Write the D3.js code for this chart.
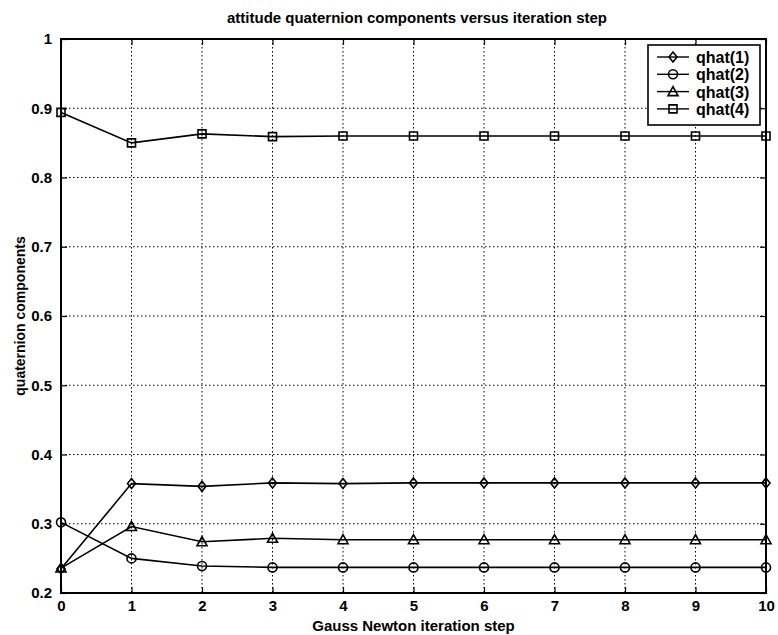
<!DOCTYPE html>
<html>
<head>
<meta charset="utf-8">
<script src="https://cdn.jsdelivr.net/npm/d3@7"></script>
<style>
  body { margin: 0; background: #ffffff; }
  svg text { font-family: Arial, "Liberation Sans", sans-serif; fill: #000; }
</style>
</head>
<body>
<div id="chart"></div>
<script>
// attitude quaternion components versus Gauss Newton iteration step

var steps = [0, 1, 2, 3, 4, 5, 6, 7, 8, 9, 10];
var seriesNames = ["qhat(1)", "qhat(2)", "qhat(3)", "qhat(4)"];
var seriesMarkers = ["diamond", "circle", "triangle", "square"];

var qhat1 = [0.235, 0.358, 0.354, 0.359, 0.358, 0.359, 0.359, 0.359, 0.359, 0.359, 0.359];
var qhat2 = [0.302, 0.250, 0.239, 0.237, 0.237, 0.237, 0.237, 0.237, 0.237, 0.237, 0.237];
var qhat3 = [0.236, 0.296, 0.274, 0.279, 0.277, 0.277, 0.277, 0.277, 0.277, 0.277, 0.277];
var qhat4 = [0.894, 0.850, 0.863, 0.859, 0.860, 0.860, 0.860, 0.860, 0.860, 0.860, 0.860];

var xTicks = [0, 1, 2, 3, 4, 5, 6, 7, 8, 9, 10];
var yTicks = [0.2, 0.3, 0.4, 0.5, 0.6, 0.7, 0.8, 0.9, 1];

(function() {

    var width = 778;
    var height = 635;
    var margin = { top: 39, right: 12, bottom: 42, left: 61 };

    var svg = d3.select("#chart")
        .append("svg")
        .attr("width", width)
        .attr("height", height);

    svg.append("rect")
        .attr("width", width)
        .attr("height", height)
        .attr("fill", "#ffffff");

    var x = d3.scaleLinear()
        .domain([0, 10])
        .range([margin.left, width - margin.right]);

    var y = d3.scaleLinear()
        .domain([0.2, 1])
        .range([height - margin.bottom, margin.top]);

    var plotW = width - margin.left - margin.right;
    var plotH = height - margin.top - margin.bottom;

    // Grid, dotted
    var grid = svg.append("g");

    grid.selectAll(".vgrid")
        .data(xTicks.slice(1, -1))
        .enter()
        .append("line")
        .attr("x1", function(d) { return x(d); })
        .attr("x2", function(d) { return x(d); })
        .attr("y1", margin.top)
        .attr("y2", height - margin.bottom)
        .attr("stroke", "#000")
        .attr("stroke-width", 1)
        .attr("stroke-dasharray", "1.5,2.5");

    grid.selectAll(".hgrid")
        .data(yTicks.slice(1, -1))
        .enter()
        .append("line")
        .attr("x1", margin.left)
        .attr("x2", width - margin.right)
        .attr("y1", function(d) { return y(d); })
        .attr("y2", function(d) { return y(d); })
        .attr("stroke", "#000")
        .attr("stroke-width", 1)
        .attr("stroke-dasharray", "1.5,2.5");

    // Axes with inward ticks on all sides
    var tickLen = 6;

    var bottomAxis = svg.append("g")
        .attr("transform", "translate(0," + (height - margin.bottom) + ")")
        .call(d3.axisBottom(x).tickValues(xTicks).tickSizeInner(-tickLen).tickSizeOuter(0).tickPadding(7).tickFormat(d3.format("d")));

    var topAxis = svg.append("g")
        .attr("transform", "translate(0," + margin.top + ")")
        .call(d3.axisTop(x).tickValues(xTicks).tickSizeInner(-tickLen).tickSizeOuter(0).tickFormat(""));

    var leftAxis = svg.append("g")
        .attr("transform", "translate(" + margin.left + ",0)")
        .call(d3.axisLeft(y).tickValues(yTicks).tickSizeInner(-tickLen).tickSizeOuter(0).tickPadding(9).tickFormat(function(d) { return d === 1 ? "1" : d3.format(".1f")(d); }));

    var rightAxis = svg.append("g")
        .attr("transform", "translate(" + (width - margin.right) + ",0)")
        .call(d3.axisRight(y).tickValues(yTicks).tickSizeInner(-tickLen).tickSizeOuter(0).tickFormat(""));

    [bottomAxis, topAxis, leftAxis, rightAxis].forEach(function(a) {
        a.select(".domain").remove();
        a.selectAll(".tick line").attr("stroke", "#000").attr("stroke-width", 1.2);
        a.selectAll(".tick text")
            .attr("font-size", "15px")
            .attr("font-weight", "bold")
            .attr("font-family", "Arial, 'Liberation Sans', sans-serif");
    });

    // Frame
    svg.append("rect")
        .attr("x", margin.left)
        .attr("y", margin.top)
        .attr("width", plotW)
        .attr("height", plotH)
        .attr("fill", "none")
        .attr("stroke", "#000")
        .attr("stroke-width", 2);

    // Marker shapes
    function markerPath(type) {
        if (type === "diamond") {
            return "M0,-5L4,0L0,5L-4,0Z";
        }
        if (type === "triangle") {
            return "M0,-5L5,4L-5,4Z";
        }
        if (type === "square") {
            return "M-4,-4L4,-4L4,4L-4,4Z";
        }
        return null;
    }

    function drawMarker(g, type) {
        if (type === "circle") {
            g.append("circle")
                .attr("r", 4.5)
                .attr("fill", "none")
                .attr("stroke", "#000")
                .attr("stroke-width", 1.6);
        } else {
            g.append("path")
                .attr("d", markerPath(type))
                .attr("fill", "none")
                .attr("stroke", "#000")
                .attr("stroke-width", 1.6);
        }
    }

    var allSeries = [qhat1, qhat2, qhat3, qhat4];

    var line = d3.line()
        .x(function(d, i) { return x(steps[i]); })
        .y(function(d) { return y(d); });

    allSeries.forEach(function(vals, k) {
        svg.append("path")
            .datum(vals)
            .attr("d", line)
            .attr("fill", "none")
            .attr("stroke", "#000")
            .attr("stroke-width", 1.6);

        svg.selectAll(".m" + k)
            .data(vals)
            .enter()
            .append("g")
            .attr("transform", function(d, i) {
                return "translate(" + x(steps[i]) + "," + y(d) + ")";
            })
            .each(function() {
                drawMarker(d3.select(this), seriesMarkers[k]);
            });
    });

    // Legend
    var legend = svg.append("g")
        .attr("transform", "translate(648,45)");

    legend.append("rect")
        .attr("width", 112)
        .attr("height", 80)
        .attr("fill", "#ffffff")
        .attr("stroke", "#000")
        .attr("stroke-width", 1.6);

    seriesNames.forEach(function(name, k) {
        var row = legend.append("g")
            .attr("transform", "translate(0," + (12 + k * 17.3) + ")");

        row.append("line")
            .attr("x1", 9)
            .attr("x2", 41)
            .attr("stroke", "#000")
            .attr("stroke-width", 1.4);

        var m = row.append("g").attr("transform", "translate(25,0)");
        drawMarker(m, seriesMarkers[k]);

        row.append("text")
            .attr("x", 48)
            .attr("y", 6)
            .attr("font-size", "16px")
            .attr("font-weight", "bold")
            .text(name);
    });

    // Title and axis labels
    svg.append("text")
        .attr("x", 417)
        .attr("y", 23)
        .attr("text-anchor", "middle")
        .attr("font-size", "15px")
        .attr("font-weight", "bold")
        .text("attitude quaternion components versus iteration step");

    svg.append("text")
        .attr("x", x(5))
        .attr("y", 631)
        .attr("text-anchor", "middle")
        .attr("font-size", "15px")
        .attr("font-weight", "bold")
        .text("Gauss Newton iteration step");

    svg.append("text")
        .attr("transform", "translate(25," + y(0.6) + ") rotate(-90)")
        .attr("text-anchor", "middle")
        .attr("font-size", "14px")
        .attr("font-weight", "bold")
        .text("quaternion components");

})();
</script>
</body>
</html>
